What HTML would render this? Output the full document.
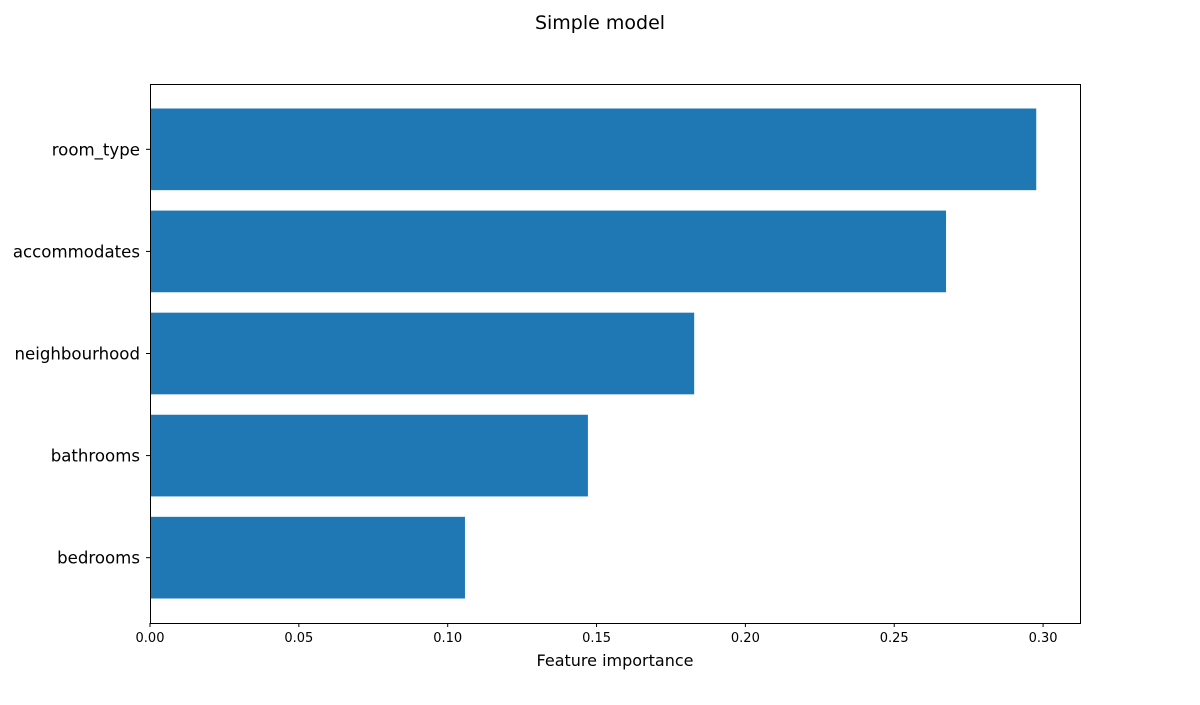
<!DOCTYPE html>
<html><head><meta charset="utf-8"><style>
body{margin:0;background:#fff;font-family:"Liberation Sans","DejaVu Sans",sans-serif}
</style></head><body>
<svg id="chart" width="1200" height="700" xmlns="http://www.w3.org/2000/svg" font-family="DejaVu Sans, Liberation Sans, sans-serif">
<rect width="1200" height="700" fill="#fff"/>
<text x="600" y="29" text-anchor="middle" font-size="19">Simple model</text>
<g id="bars"></g>
<g id="xticks"></g>
<g id="yticks"></g>
<rect x="150.5" y="84.5" width="930" height="539" fill="none" stroke="#000" stroke-width="1"/>
<text x="615" y="666" text-anchor="middle" font-size="16">Feature importance</text>
</svg>
<script>
const categories = ["bedrooms","bathrooms","neighbourhood","accommodates","room_type"];
const values = [0.1058,0.1471,0.1828,0.2674,0.2977];
const xTicks = [0,0.05,0.10,0.15,0.20,0.25,0.30];
const xTickLabels = ["0.00","0.05","0.10","0.15","0.20","0.25","0.30"];

const L=150,R=1080,T=84,B=623,XMAX=0.3124;
const NS="http://www.w3.org/2000/svg";
const n=categories.length, yMin=-0.64, yMax=n-1+0.64;
const xs=v=>L+(v/XMAX)*(R-L);
const ys=i=>B-(i-yMin)/(yMax-yMin)*(B-T);
const step=(B-T)/(yMax-yMin);
const bars=document.getElementById('bars'), xt=document.getElementById('xticks'), yt=document.getElementById('yticks');
function mk(tag,attrs,parent){const e=document.createElementNS(NS,tag);for(const k in attrs)e.setAttribute(k,attrs[k]);parent.appendChild(e);return e;}
categories.forEach((c,i)=>{
  const cy=ys(i),h=0.8*step;
  const r=mk('rect',{x:L,y:cy-h/2,width:xs(values[i])-L,height:h,fill:'#1f77b4'},bars);
  
  
  const tk=mk('line',{x1:L-4,x2:L,y1:cy,y2:cy,stroke:'#000'},yt);
  
  
  const t=mk('text',{x:L-10,y:cy+6,'text-anchor':'end','font-size':'16.6'},yt);
  t.textContent=c;
  
  
});
xTicks.forEach((v,i)=>{
  const x=xs(v);
  const tk=mk('line',{x1:x,x2:x,y1:B,y2:B+4,stroke:'#000'},xt);
  
  
  const t=mk('text',{x:x,y:B+19,'text-anchor':'middle','font-size':'13'},xt);
  t.textContent=xTickLabels[i];
  
  
});
</script>
</body></html>
